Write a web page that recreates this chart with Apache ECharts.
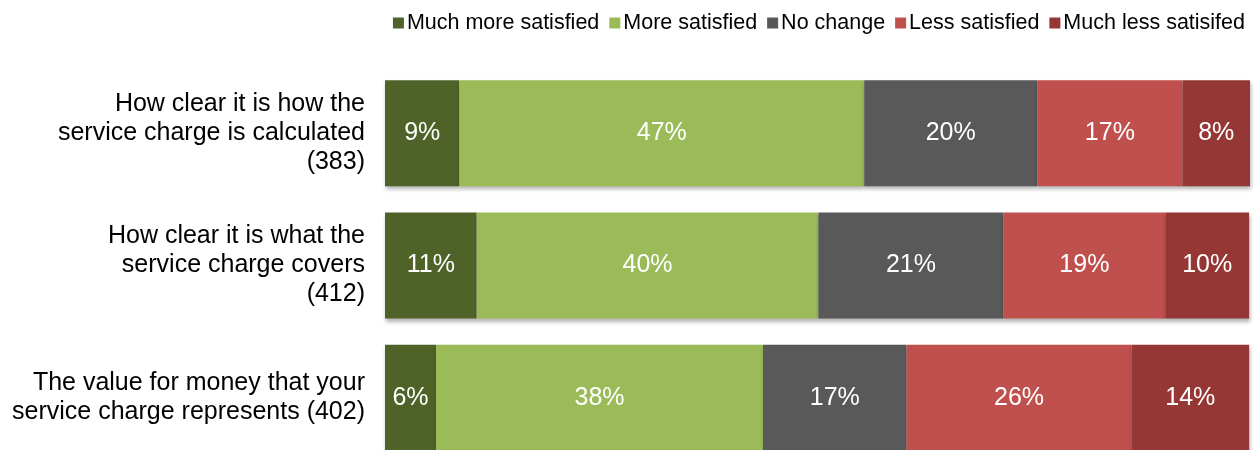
<!DOCTYPE html>
<html>
<head>
<meta charset="utf-8">
<script src="https://cdn.jsdelivr.net/npm/echarts@6/dist/echarts.min.js"></script>
<style>
  html, body { margin: 0; padding: 0; background: #fff; }
  #chart { width: 1256px; height: 450px; }
</style>
</head>
<body>
<div id="chart"></div>
<script>
// 問題（上から順）
var questions = [
    'How clear it is how the\nservice charge is calculated\n(383)',
    'How clear it is what the\nservice charge covers\n(412)',
    'The value for money that your\nservice charge represents (402)'
];

// 回答カテゴリ
var answers = ['Much more satisfied', 'More satisfied', 'No change', 'Less satisfied', 'Much less satisifed'];
var answerColors = ['#4F6228', '#9BBB59', '#595959', '#C0504D', '#953735'];

// 各回答の割合 (%), questions の順
var muchMore = [8.6, 10.6, 5.9];
var more = [46.8, 39.5, 37.8];
var noChange = [20.0, 21.4, 16.6];
var less = [16.8, 18.7, 26.0];
var muchLess = [7.9, 9.7, 13.6];

var seriesValues = [muchMore, more, noChange, less, muchLess];

var FONT = "'Liberation Sans', Arial, sans-serif";

var chart = echarts.init(document.getElementById('chart'));

var series = answers.map(function(name, i) {
    return {
        name: name,
        type: 'bar',
        stack: 'total',
        barWidth: 106,
        data: seriesValues[i],
        itemStyle: {
            color: answerColors[i],
            shadowColor: 'rgba(0,0,0,0.3)',
            shadowBlur: 4,
            shadowOffsetX: 1,
            shadowOffsetY: 3
        },
        label: {
            show: true,
            position: 'inside',
            color: '#fff',
            fontFamily: FONT,
            fontSize: 25,
            formatter: function(p) {
                return Math.round(p.value) + '%';
            }
        },
        emphasis: { disabled: true }
    };
});

chart.setOption({
    animation: false,
    legend: {
        data: answers,
        top: 7,
        right: 6,
        itemWidth: 11,
        itemHeight: 11,
        itemGap: 10,
        icon: 'rect',
        textStyle: {
            fontFamily: FONT,
            fontSize: 21.5,
            color: '#000',
            padding: [0, 0, 0, -2]
        }
    },
    grid: {
        left: 385,
        right: 6,
        top: 67,
        height: 397,
        outerBoundsMode: 'none',
        containLabel: false
    },
    xAxis: {
        type: 'value',
        min: 0,
        max: 100,
        show: false
    },
    yAxis: {
        type: 'category',
        inverse: true,
        data: questions,
        axisLine: { show: false },
        axisTick: { show: false },
        axisLabel: {
            margin: 20,
            color: '#000',
            fontFamily: FONT,
            fontSize: 25,
            lineHeight: 29,
            align: 'right'
        }
    },
    series: series
});
</script>
</body>
</html>
